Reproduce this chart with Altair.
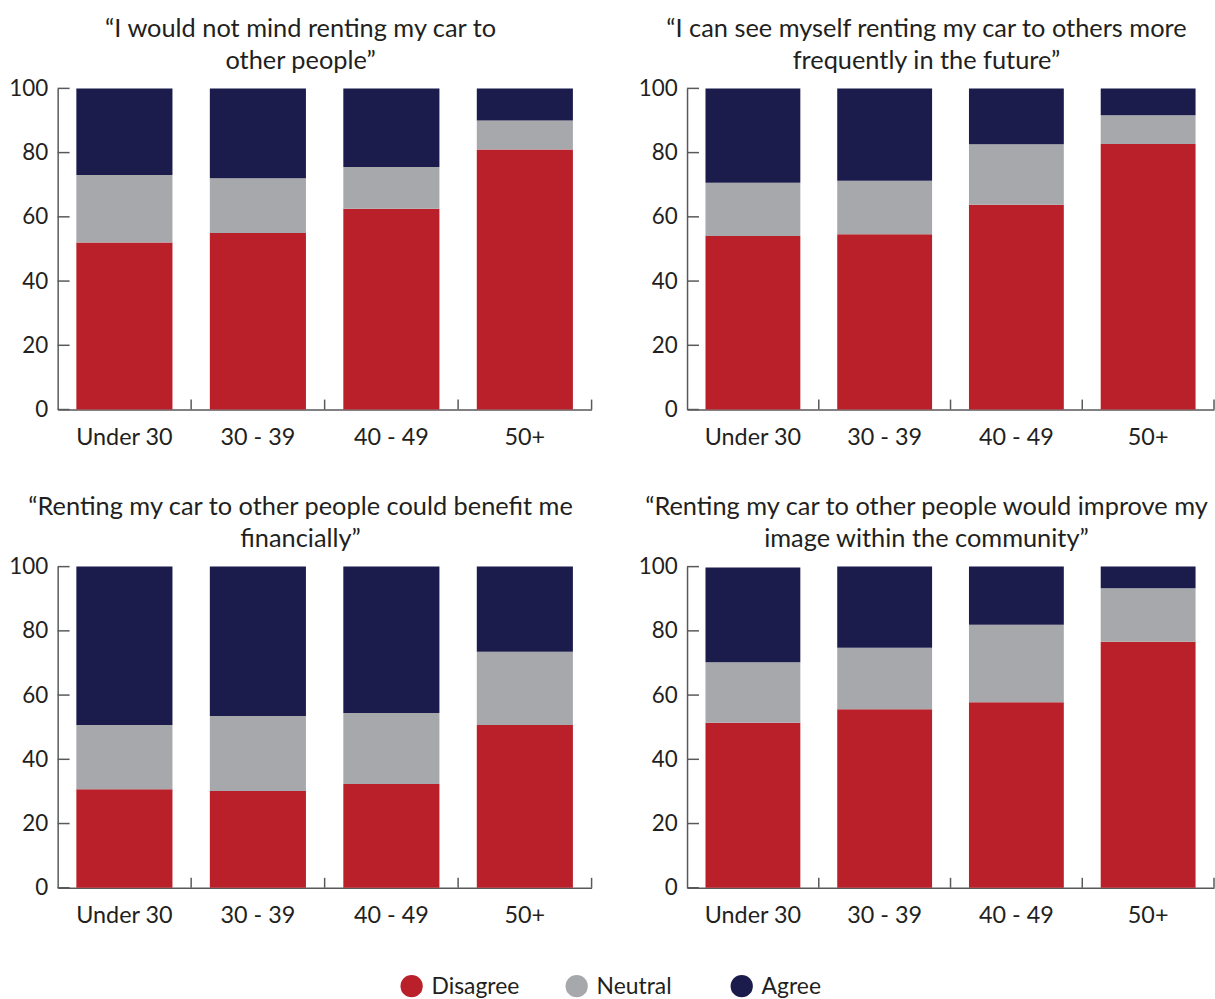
import altair as alt
import pandas as pd

ages = ["Under 30", "30 - 39", "40 - 49", "50+"]
responses = ["Disagree", "Neutral", "Agree"]
colors = ["#BA2029", "#A7A8AB", "#1B1C4B"]

titles = [
    ["\u201cI would not mind renting my car to", "other people\u201d"],
    ["\u201cI can see myself renting my car to others more", "frequently in the future\u201d"],
    ["\u201cRenting my car to other people could benefit me", "financially\u201d"],
    ["\u201cRenting my car to other people would improve my", "image within the community\u201d"],
]

# values per panel, per age group
disagree = [
    [52.0, 55.0, 62.5, 81.0],
    [54.0, 54.6, 63.8, 82.7],
    [30.7, 30.1, 32.3, 50.7],
    [51.4, 55.6, 57.8, 76.6],
]
neutral = [
    [21.0, 17.0, 13.0, 9.0],
    [16.6, 16.6, 18.8, 8.9],
    [20.0, 23.4, 22.1, 22.8],
    [18.8, 19.1, 24.1, 16.7],
]
agree = [
    [27.0, 28.0, 24.5, 10.0],
    [29.4, 28.8, 17.4, 8.4],
    [49.3, 46.5, 45.6, 26.5],
    [29.5, 25.3, 18.1, 6.7],
]

y_ticks = [0, 20, 40, 60, 80, 100]
x_bounds = [1, 2, 3, 4]

FONT = "Lato"
TXT = "#231F20"
AX = "#58595B"
H = 323

color_scale = alt.Scale(domain=responses, range=colors)


def panel(i, w):
    rows = []
    for j, a in enumerate(ages):
        for k, (r, vals) in enumerate(zip(responses, [disagree, neutral, agree])):
            rows.append({"age": a, "response": r, "value": vals[i][j], "order": k})
    df = pd.DataFrame(rows)
    bars = alt.Chart(df).mark_bar().encode(
        x=alt.X(
            "age:N",
            sort=ages,
            scale=alt.Scale(paddingInner=0.28, paddingOuter=0.14),
            axis=alt.Axis(
                title=None, labelAngle=0, ticks=False, domainColor=AX, domainWidth=1.5,
                labelFontSize=23.5, labelColor=TXT, labelFont=FONT, labelPadding=16,
            ),
        ),
        y=alt.Y(
            "value:Q",
            stack="zero",
            scale=alt.Scale(domain=[0, 100], nice=False),
            axis=alt.Axis(
                title=None, values=y_ticks, ticks=False, grid=False, domainColor=AX,
                domainWidth=1.5, labelFontSize=22.5, labelColor=TXT, labelFont=FONT,
                labelPadding=10,
            ),
        ),
        color=alt.Color("response:N", scale=color_scale, legend=None),
        order=alt.Order("order:Q"),
    )
    yt = alt.Chart(pd.DataFrame({"v": y_ticks})).mark_rule(color=AX, strokeWidth=1.5).encode(
        y=alt.Y("v:Q", title=None),
        x=alt.value(0),
        x2=alt.value(12),
    )
    xt = alt.Chart(pd.DataFrame({"p": x_bounds})).mark_rule(color=AX, strokeWidth=1.5).encode(
        x=alt.X("p:Q", scale=alt.Scale(domain=[0, 4]), axis=None),
        y=alt.value(H - 10),
        y2=alt.value(H),
    )
    return (
        alt.layer(bars, yt, xt)
        .resolve_scale(x="independent")
        .properties(
            width=w,
            height=H,
            title=alt.Title(
                titles[i], fontSize=25.5, font=FONT, fontWeight="normal", color=TXT,
                lineHeight=32, frame="bounds", anchor="middle", offset=3,
            ),
        )
    )


# custom legend row (origin aligns with the left plot area)
leg_df = pd.DataFrame({"response": responses})
leg_x = alt.X(
    "response:N",
    sort=responses,
    scale=alt.Scale(type="point", domain=responses, range=[356, 688], padding=0),
    axis=None,
)
leg_dots = alt.Chart(leg_df).mark_circle(size=500, opacity=1).encode(
    x=leg_x,
    y=alt.value(21),
    color=alt.Color("response:N", scale=color_scale, legend=None),
)
leg_text = alt.Chart(leg_df).mark_text(
    align="left", baseline="middle", dx=20, fontSize=23, font=FONT, color=TXT
).encode(
    x=leg_x,
    y=alt.value(22),
    text="response:N",
)
legend_row = alt.layer(leg_dots, leg_text).properties(width=800, height=24)

row1 = alt.hconcat(panel(0, 537), panel(1, 530), spacing=45)
row2 = alt.hconcat(panel(2, 537), panel(3, 530), spacing=45)
grid = alt.vconcat(row1, row2, spacing=46)
chart = (
    alt.vconcat(grid, legend_row, spacing=38)
    .properties(padding={"left": 8, "top": 14, "right": 0, "bottom": 0})
    .configure_view(stroke=None)
)
chart.save("out.html", embed_options={"renderer": "svg", "actions": False})
